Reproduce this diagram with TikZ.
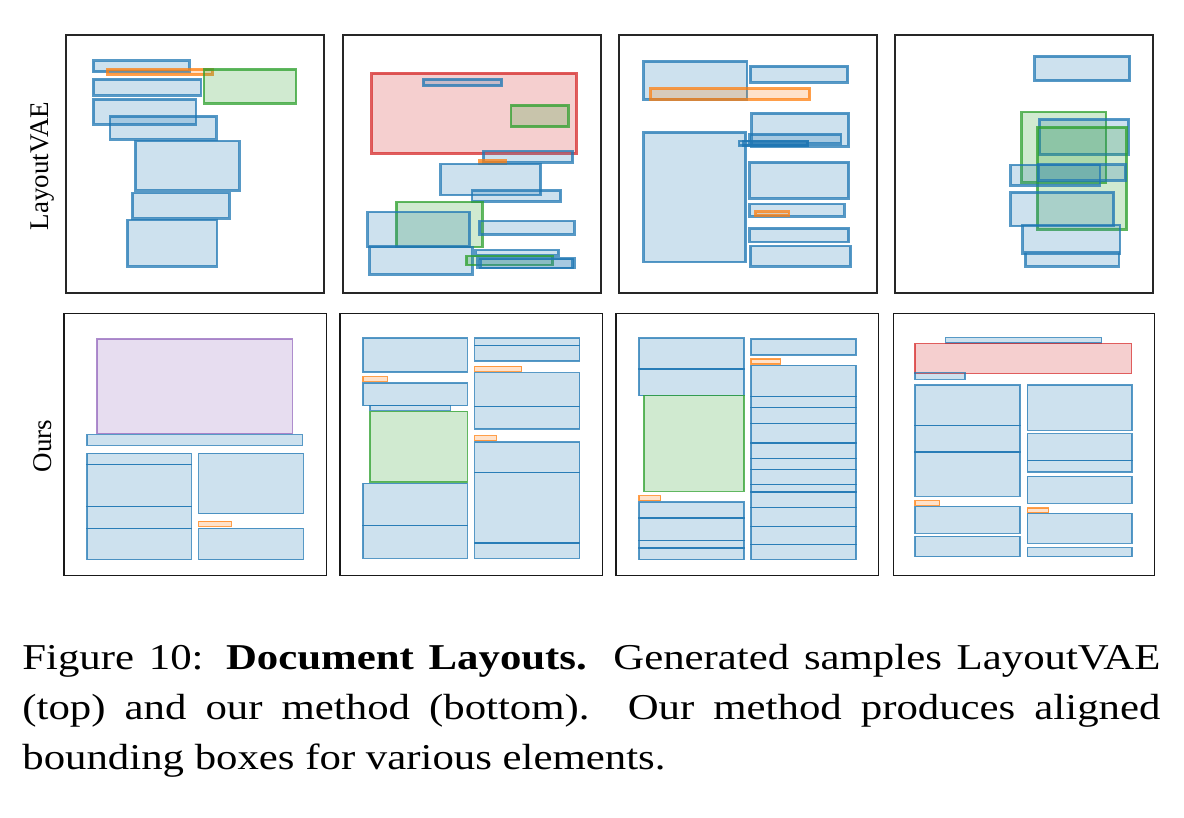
\documentclass[tikz,border=0pt]{standalone}
\usepackage{fontspec}
\setmainfont{Liberation Serif}
\definecolor{tb}{HTML}{1F77B4}
\definecolor{to}{HTML}{FF7F0E}
\definecolor{tg}{HTML}{2CA02C}
\definecolor{tr}{HTML}{D62728}
\definecolor{tp}{HTML}{9467BD}
\newcommand\lb[5]{\draw[lbox=#1] (#2,#3) rectangle (#4,#5);}
\begin{document}
\begin{tikzpicture}[x=0.5pt,y=-0.5pt,
  lbox/.style={draw=#1, fill=#1, fill opacity=0.22, draw opacity=0.75},
  frametop/.style={draw=black!85, line width=1.3pt},
  framebot/.style={draw=black!90, line width=0.65pt},
  label/.style={font=\fontsize{13.5pt}{16pt}\selectfont, rotate=90}]
\useasboundingbox[fill=white] (0,0) rectangle (1184,818);
% ---------------- top row ----------------
\begin{scope}[line width=1.3pt]
% panel 1
\lb{tb}{93.3}{60.7}{189.3}{71.7}
\lb{to}{107.3}{69.3}{212.3}{74.3}
\lb{tg}{204}{69.3}{296}{103.3}
\lb{tb}{93.3}{79.3}{201}{95.3}
\lb{tb}{93.3}{99.3}{196}{124.3}
\lb{tb}{110}{116.3}{216.3}{139.3}
\lb{tb}{135.3}{141}{239.3}{190.3}
\lb{tb}{132.3}{193}{229.3}{218.3}
\lb{tb}{127.3}{220}{217}{266.3}
% panel 2
\lb{tr}{371.7}{73.3}{576.3}{153.3}
\lb{tb}{423.3}{79.3}{501.7}{85.7}
\lb{tg}{511}{105.3}{568.3}{126.7}
\lb{tb}{483.3}{151}{572.7}{162.3}
\lb{to}{479}{160.7}{505.3}{163.7}
\lb{tb}{440.7}{164}{540.7}{195}
\lb{tb}{472}{190.3}{560.7}{201.3}
\lb{tg}{396.3}{202}{482.3}{247}
\lb{tb}{367.7}{212}{469.7}{246.3}
\lb{tb}{479.3}{221}{574.3}{234.3}
\lb{tb}{369.7}{247}{472.3}{274.3}
\lb{tb}{475.7}{250}{558.7}{255.3}
\lb{tg}{466.3}{256}{552.3}{265}
\lb{tb}{477.7}{258.7}{574.3}{268}
\lb{tb}{480.3}{259}{572.7}{268}
% panel 3
\lb{tb}{643.7}{61.3}{747}{99.3}
\lb{tb}{750.3}{66.3}{847.7}{82.3}
\lb{to}{650.7}{88.7}{809.7}{99.3}
\lb{tb}{751.7}{113.3}{848.7}{146.3}
\lb{tb}{749.7}{134.3}{841}{143.3}
\lb{tb}{739}{141}{807.7}{145.7}
\lb{tb}{743}{141}{807.7}{145.7}
\lb{tb}{643.7}{132.3}{745.7}{262}
\lb{tb}{749.7}{162.3}{848.7}{198.3}
\lb{tb}{749.7}{204}{844.3}{216.3}
\lb{to}{755.3}{211.7}{789}{215.3}
\lb{tb}{749.7}{228.3}{848.7}{242}
\lb{tb}{750.3}{246}{850.7}{266.3}
% panel 4
\lb{tb}{1034.7}{56.3}{1129.7}{80.7}
\lb{tg}{1021.7}{112}{1106}{182.3}
\lb{tb}{1039.3}{119.3}{1128.7}{154.3}
\lb{tg}{1037.3}{127.3}{1126.7}{229.3}
\lb{tb}{1010.7}{165}{1100}{185.3}
\lb{tb}{1038.7}{164.7}{1125.3}{180.3}
\lb{tb}{1010.7}{192.3}{1113.7}{226}
\lb{tb}{1022.7}{225}{1120}{254}
\lb{tb}{1025.3}{252}{1119}{266.3}
\end{scope}
\draw[frametop] (66,35) rectangle (324,293);
\draw[frametop] (343,35) rectangle (601,293);
\draw[frametop] (619,35) rectangle (877,293);
\draw[frametop] (895,35) rectangle (1153,293);
% ---------------- bottom row ----------------
\begin{scope}[line width=0.7pt]
% panel 5
\lb{tp}{97}{339}{292.3}{433.7}
\lb{tb}{87}{434.7}{302.3}{445.3}
\lb{tb}{87}{453.3}{191.3}{464.7}
\lb{tb}{87}{464.7}{191.3}{506.3}
\lb{tb}{87}{506.3}{191.3}{528.7}
\lb{tb}{87}{528.7}{191.3}{559.7}
\lb{tb}{198.7}{453.3}{303.3}{513.7}
\lb{to}{198.7}{521.3}{231.3}{526.3}
\lb{tb}{198.7}{528.3}{303.3}{559.7}
% panel 6
\lb{tb}{363}{338}{467.3}{372}
\lb{tb}{474.7}{338}{579.7}{345.7}
\lb{tb}{474.7}{345.7}{579.7}{361}
\lb{to}{474.7}{366.3}{521.7}{371.3}
\lb{to}{363}{376.7}{387.3}{381.3}
\lb{tb}{363}{383}{467.3}{405.7}
\lb{tb}{370}{405.3}{450.3}{410.3}
\lb{tg}{370}{411.3}{467.3}{482}
\lb{tb}{363}{483.3}{467.3}{525.3}
\lb{tb}{363}{525.3}{467.3}{558.3}
\lb{tb}{474.7}{372.7}{579.7}{406.7}
\lb{tb}{474.7}{406.7}{579.7}{429}
\lb{to}{474.7}{435.7}{496.3}{440.7}
\lb{tb}{474.7}{442}{579.7}{472.3}
\lb{tb}{474.7}{472.3}{579.7}{543}
\lb{tb}{474.7}{543}{579.7}{558.3}
% panel 7
\lb{tb}{639}{338}{744}{369}
\lb{tb}{639}{369}{744}{395.7}
\lb{tg}{644}{395.7}{744}{491.3}
\lb{to}{639}{495.7}{660.7}{500.7}
\lb{tb}{639}{502}{744}{518}
\lb{tb}{639}{518}{744}{540.7}
\lb{tb}{639}{540.7}{744}{548}
\lb{tb}{639}{548}{744}{559.7}
\lb{tb}{751}{339}{856}{355}
\lb{to}{751}{359}{780.7}{364}
\lb{tb}{751}{365.3}{856}{396.3}
\lb{tb}{751}{396.3}{856}{407.3}
\lb{tb}{751}{407.3}{856}{423.3}
\lb{tb}{751}{423.3}{856}{443}
\lb{tb}{751}{443}{856}{458.7}
\lb{tb}{751}{458.7}{856}{469.7}
\lb{tb}{751}{469.7}{856}{484.7}
\lb{tb}{751}{484.7}{856}{492}
\lb{tb}{751}{492}{856}{507.3}
\lb{tb}{751}{507.3}{856}{526.3}
\lb{tb}{751}{526.3}{856}{544.3}
\lb{tb}{751}{544.3}{856}{559.7}
% panel 8
\lb{tb}{945.7}{337.7}{1101.7}{343}
\lb{tr}{915}{343.7}{1131.3}{373.3}
\lb{tb}{915}{372.7}{965}{379.3}
\lb{tb}{915}{385}{1020}{425.7}
\lb{tb}{915}{425.7}{1020}{452}
\lb{tb}{915}{452}{1020}{496.3}
\lb{to}{915}{500.7}{939.7}{505.3}
\lb{tb}{915}{506.3}{1020}{533.3}
\lb{tb}{915}{536.3}{1020}{556.7}
\lb{tb}{1027.3}{385}{1132}{430.3}
\lb{tb}{1027.3}{433.7}{1132}{460.7}
\lb{tb}{1027.3}{460.7}{1132}{472}
\lb{tb}{1027.3}{476.3}{1132}{503.3}
\lb{to}{1027.3}{508}{1048.7}{512.7}
\lb{tb}{1027.3}{513.3}{1132}{543.3}
\lb{tb}{1027.3}{547.7}{1132}{556.7}
\end{scope}
\draw[framebot] (64,313.3) rectangle (326.7,575.3);
\draw[framebot] (340,313.3) rectangle (602.7,575.3);
\draw[framebot] (616,313.3) rectangle (878.7,575.3);
\draw[framebot] (893.3,313.3) rectangle (1154.7,575.3);
% row labels
\node[label] (lvae) at (43,166) {LayoutVAE};
\node[label] (ours) at (43,446) {Ours};
% caption
\node[anchor=base west, inner sep=0pt] (cap) at (22,669.3)
 {\scalebox{1}[0.85]{\parbox[t]{569pt}{\fontsize{21.4pt}{29.4pt}\selectfont
  Figure 10: \textbf{Document Layouts.} Generated samples LayoutVAE\linebreak
  (top) and our method (bottom).\ \ Our method produces aligned\linebreak
  bounding boxes for various elements.}}};
\end{tikzpicture}
\end{document}
